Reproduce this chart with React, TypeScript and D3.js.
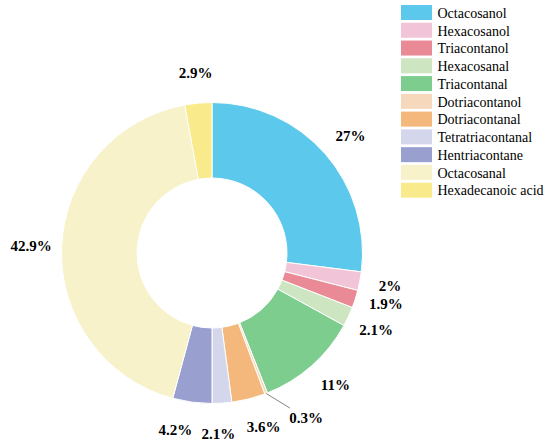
import React from "react";
import * as d3 from "d3";

const categories = [
  "Octacosanol",
  "Hexacosanol",
  "Triacontanol",
  "Hexacosanal",
  "Triacontanal",
  "Dotriacontanol",
  "Dotriacontanal",
  "Tetratriacontanal",
  "Hentriacontane",
  "Octacosanal",
  "Hexadecanoic acid",
];
const values = [27, 2, 1.9, 2.1, 11, 0.3, 3.6, 2.1, 4.2, 42.9, 2.9];
const labels = ["27%", "2%", "1.9%", "2.1%", "11%", "0.3%", "3.6%", "2.1%", "4.2%", "42.9%", "2.9%"];
const colors = [
  "#5BC8EC",
  "#F2C4D8",
  "#E98A96",
  "#CDE5C0",
  "#7CCD8E",
  "#F6D8BC",
  "#F4B87C",
  "#D4D6EB",
  "#99A0D0",
  "#F7F2CA",
  "#F9EA8C",
];

const W = 550;
const H = 441;
const cx = 212;
const cy = 253;
const R = 150.5;
const r = 75;
const labelR = 181;
// small angular nudges (degrees) applied to label placement
const labelNudge = [1.3, -0.4, -1.6, 0, -1.6, 0, -2.5, 1.8, 4.1, 0, 0];
const FONT = "Liberation Serif";

export default function App() {
  const pie = d3.pie<number>().sort(null).value((d) => d);
  const arcs = pie(values);
  const arcGen = d3.arc<d3.PieArcDatum<number>>().innerRadius(r).outerRadius(R);
  const pt = (a: number, rad: number) => [rad * Math.sin(a), -rad * Math.cos(a)];
  const rad = (deg: number) => (deg * Math.PI) / 180;

  const legendY = d3.scaleLinear().domain([0, 1]).range([5, 22.77]);

  return (
    <svg width={W} height={H} style={{ position: "absolute", left: 0, top: 0, background: "#fff" }}>
      <g transform={`translate(${cx},${cy})`}>
        {arcs.map((a, i) => (
          <path key={i} d={arcGen(a) || ""} fill={colors[i]} stroke="#fff" strokeWidth={1} />
        ))}
        {arcs.map((a, i) => {
          const mid = (a.startAngle + a.endAngle) / 2;
          if (labels[i] === "0.3%") {
            const [x0, y0] = pt(mid, R);
            const [x1, y1] = pt(mid - 0.098, 173.5);
            const [lx, ly] = pt(mid - 0.15, 190);
            return (
              <g key={i}>
                <line x1={x0} y1={y0} x2={x1} y2={y1} stroke="#666" strokeWidth={0.8} />
                <text x={lx} y={ly + 5} textAnchor="middle" fontSize={15} fontWeight="bold" fontFamily={FONT}>
                  {labels[i]}
                </text>
              </g>
            );
          }
          const [lx, ly] = pt(mid + rad(labelNudge[i]), labelR);
          return (
            <text key={i} x={lx} y={ly + 5} textAnchor="middle" fontSize={15} fontWeight="bold" fontFamily={FONT}>
              {labels[i]}
            </text>
          );
        })}
      </g>
      <g>
        {categories.map((c, i) => (
          <g key={c} transform={`translate(401,${legendY(i)})`}>
            <rect x={0} y={0} width={31} height={15} fill={colors[i]} />
            <text x={36.5} y={12.8} fontSize={14} fill="#000" fontFamily={FONT}>
              {c}
            </text>
          </g>
        ))}
      </g>
    </svg>
  );
}
